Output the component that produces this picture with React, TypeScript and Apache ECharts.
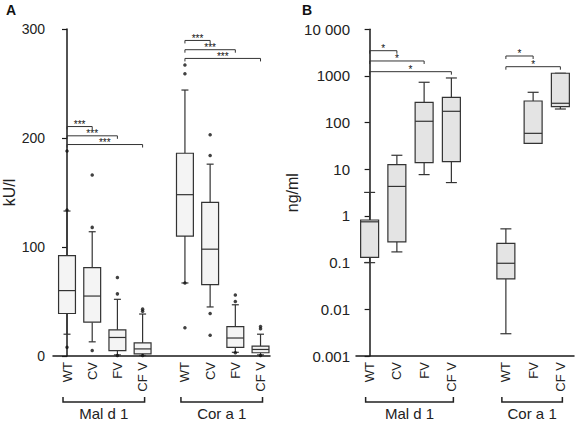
import { useEffect, useRef } from 'react';
import * as echarts from 'echarts';

// ---------- Panel A data (kU/l) ----------
const catsA = ['WT', 'CV', 'FV', 'CF V', 'WT', 'CV', 'FV', 'CF V'];
// [min, Q1, median, Q3, max]
const boxA = [
  [20, 39, 60, 92, 133],
  [13, 31, 55, 81, 114],
  [1, 5, 17, 24, 52],
  [0.5, 2, 6.5, 12, 38.5],
  [67, 110, 148, 186, 244],
  [45, 65.5, 98, 141, 176],
  [3.4, 8, 16.5, 27, 47],
  [1, 3, 6, 9, 20],
];
// [category index, value]
const outliersA = [
  [0, 188], [0, 134], [0, 8],
  [1, 166], [1, 118], [1, 5],
  [2, 72], [2, 57], [2, 0.5],
  [3, 43], [3, 41], [3, 0.5],
  [4, 267], [4, 259], [4, 67], [4, 26],
  [5, 203], [5, 184], [5, 39], [5, 19],
  [6, 56], [6, 50], [6, 3],
  [7, 27], [7, 25], [7, 0.5],
];
// [from cat, to cat, level]
const sigA = [
  [0, 1, 210.5], [0, 2, 202], [0, 3, 194],
  [4, 5, 289.5], [4, 6, 281], [4, 7, 273],
];
const sigLabelsA = ['***', '***', '***', '***', '***', '***'];
const groupsA = [[0, 3], [4, 7]];
const groupNamesA = ['Mal d 1', 'Cor a 1'];
const yTicksA = [0, 100, 200, 300];

// ---------- Panel B data (ng/ml) ----------
const catsB = ['WT', 'CV', 'FV', 'CF V', 'WT', 'FV', 'CF V'];
const boxB = [
  [0.1, 0.13, 0.75, 0.82, 3.2],
  [0.17, 0.28, 4.3, 12.6, 20],
  [7.7, 13.9, 107, 273, 733],
  [5.2, 14.6, 175, 349, 906],
  [0.003, 0.045, 0.097, 0.26, 0.53],
  [36, 36, 59, 291, 447],
  [196, 220, 260, 1143, 1143],
];
const sigB = [
  [0, 1, 3480], [0, 2, 2095], [0, 3, 1236],
  [4, 5, 2680], [4, 6, 1580],
];
const sigLabelsB = ['*', '*', '*', '*', '*'];
const groupsB = [[0, 3], [4, 6]];
const groupNamesB = ['Mal d 1', 'Cor a 1'];

// ---------- layout (category slot positions on the x scale) ----------
const posA = [0, 1, 2, 3, 4.68, 5.68, 6.68, 7.68];
const posB = [0, 1, 2, 3, 5, 6, 7];

const FONT = 'Liberation Sans, Arial, Helvetica, sans-serif';
const INK = '#222';
const STROKE = '#333';

function boxRenderer(fill: string, ratio: number, capW: number) {
  return (params: any, api: any) => {
    const x = api.value(0);
    const mn = api.value(1), q1 = api.value(2), md = api.value(3), q3 = api.value(4), mx = api.value(5);
    const pMin = api.coord([x, mn]);
    const pQ1 = api.coord([x, q1]);
    const pMd = api.coord([x, md]);
    const pQ3 = api.coord([x, q3]);
    const pMx = api.coord([x, mx]);
    const unit = api.coord([x + 0.5, md])[0] - api.coord([x - 0.5, md])[0];
    const w = unit * ratio;
    const cx = pMd[0];
    const ls = { stroke: STROKE, lineWidth: 1.2 };
    return {
      type: 'group',
      children: [
        { type: 'line', shape: { x1: cx, y1: pMx[1], x2: cx, y2: pQ3[1] }, style: ls },
        { type: 'line', shape: { x1: cx, y1: pQ1[1], x2: cx, y2: pMin[1] }, style: ls },
        { type: 'line', shape: { x1: cx - capW / 2, y1: pMx[1], x2: cx + capW / 2, y2: pMx[1] }, style: ls },
        { type: 'line', shape: { x1: cx - capW / 2, y1: pMin[1], x2: cx + capW / 2, y2: pMin[1] }, style: ls },
        { type: 'rect', shape: { x: cx - w / 2, y: pQ3[1], width: w, height: Math.max(pQ1[1] - pQ3[1], 0.5) }, style: { fill, stroke: STROKE, lineWidth: 1.2 } },
        { type: 'line', shape: { x1: cx - w / 2, y1: pMd[1], x2: cx + w / 2, y2: pMd[1] }, style: ls },
      ],
    };
  };
}

function sigRenderer(labels: string[], fontSize: number, textDy: number) {
  return (params: any, api: any) => {
    const p1 = api.coord([api.value(0), api.value(2)]);
    const p2 = api.coord([api.value(1), api.value(2)]);
    return {
      type: 'group',
      children: [
        {
          type: 'polyline',
          shape: { points: [[p1[0], p1[1] + 3], [p1[0], p1[1]], [p2[0], p2[1]], [p2[0], p2[1] + 3]] },
          style: { stroke: STROKE, lineWidth: 1, fill: 'none' },
        },
        {
          type: 'text',
          x: (p1[0] + p2[0]) / 2,
          y: p1[1] + textDy,
          style: { text: labels[params.dataIndex], fontSize, fontFamily: FONT, fill: '#111', align: 'center', verticalAlign: 'middle' },
        },
      ],
    };
  };
}

function groupRenderer(names: string[], yBase: number, fontSize: number) {
  return (params: any, api: any) => {
    const p1 = api.coord([api.value(0), yBase]);
    const p2 = api.coord([api.value(1), yBase]);
    const y = p1[1] + 46;
    const x1 = p1[0] - 4;
    const x2 = p2[0] + 2;
    return {
      type: 'group',
      children: [
        {
          type: 'polyline',
          shape: { points: [[x1, y - 5], [x1, y], [x2, y], [x2, y - 5]] },
          style: { stroke: INK, lineWidth: 1.5, fill: 'none' },
        },
        {
          type: 'text',
          x: (x1 + x2) / 2,
          y: y + 11,
          style: { text: names[params.dataIndex], fontSize, fontFamily: FONT, fill: INK, align: 'center', verticalAlign: 'middle' },
        },
      ],
    };
  };
}

function catFormatter(pos: number[], cats: string[]) {
  return (v: number) => {
    const i = pos.findIndex((p) => Math.abs(p - v) < 1e-6);
    return i >= 0 ? cats[i] : '';
  };
}

function logLabel(v: number) {
  const e = Math.round(Math.log10(v));
  if (e >= 4) return '10 000';
  if (e >= 0) return String(Math.pow(10, e));
  return Math.pow(10, e).toFixed(-e);
}

const axisLineStyle = { color: '#1a1a1a', width: 1.5 };

export default function App() {
  const ref = useRef<HTMLDivElement>(null);
  useEffect(() => {
    document.body.style.margin = '0';
    const chart = echarts.init(ref.current!, null, { renderer: 'svg' });
    const option: any = {
      animation: false,
      backgroundColor: '#fff',
      textStyle: { fontFamily: FONT },
      graphic: [
        { type: 'text', left: 6, top: 3, style: { text: 'A', fontSize: 14, fontWeight: 'bold', fill: '#111', fontFamily: FONT } },
        { type: 'text', left: 302, top: 3, style: { text: 'B', fontSize: 14, fontWeight: 'bold', fill: '#111', fontFamily: FONT } },
      ],
      grid: [
        { left: 53, top: 29, width: 217, height: 327 },
        { left: 356, top: 29.3, width: 218, height: 326.7 },
      ],
      xAxis: [
        {
          gridIndex: 0, type: 'value', min: -0.556, max: 8.056,
          axisLine: { show: true, onZero: false, lineStyle: axisLineStyle },
          axisTick: { show: false }, splitLine: { show: false },
          axisLabel: { customValues: posA, formatter: catFormatter(posA, catsA), rotate: 90, fontSize: 13, color: INK, margin: 6 },
        },
        {
          gridIndex: 1, type: 'value', min: -0.5, max: 7.5,
          axisLine: { show: true, onZero: false, lineStyle: axisLineStyle },
          axisTick: { show: false }, splitLine: { show: false },
          axisLabel: { customValues: posB, formatter: catFormatter(posB, catsB), rotate: 90, fontSize: 13, color: INK, margin: 6 },
        },
      ],
      yAxis: [
        {
          gridIndex: 0, type: 'value', min: yTicksA[0], max: yTicksA[yTicksA.length - 1], interval: 100,
          axisLine: { show: true, lineStyle: axisLineStyle },
          axisTick: { show: true, length: 5, lineStyle: { color: '#1a1a1a', width: 1.2 } },
          axisLabel: { fontSize: 14, color: INK, margin: 8 },
          splitLine: { show: false },
          name: 'kU/l', nameLocation: 'middle', nameGap: 32,
          nameTextStyle: { fontSize: 16, color: INK },
        },
        {
          gridIndex: 1, type: 'log', logBase: 10, min: 0.001, max: 10000,
          axisLine: { show: true, lineStyle: axisLineStyle },
          axisTick: { show: true, length: 5, lineStyle: { color: '#1a1a1a', width: 1.2 } },
          axisLabel: { fontSize: 15, color: INK, margin: 6, formatter: logLabel },
          splitLine: { show: false }, minorTick: { show: false },
          name: 'ng/ml', nameLocation: 'middle', nameGap: 40,
          nameTextStyle: { fontSize: 16, color: INK },
        },
      ],
      series: [
        {
          type: 'custom', xAxisIndex: 0, yAxisIndex: 0, clip: false,
          encode: { x: 0, y: [1, 2, 3, 4, 5] },
          data: boxA.map((b, i) => [posA[i], ...b]),
          renderItem: boxRenderer('#f4f4f4', 0.67, 7),
          z: 2,
        },
        {
          type: 'scatter', xAxisIndex: 0, yAxisIndex: 0,
          data: outliersA.map(([i, v]) => [posA[i], v]),
          symbolSize: 3.5, itemStyle: { color: '#111' }, z: 3,
        },
        {
          type: 'custom', xAxisIndex: 0, yAxisIndex: 0, clip: false,
          encode: { x: [0, 1], y: 2 },
          data: sigA.map(([a, b, y]) => [posA[a], posA[b], y]),
          renderItem: sigRenderer(sigLabelsA, 10, -2),
        },
        {
          type: 'custom', xAxisIndex: 0, yAxisIndex: 0, clip: false,
          encode: { x: [0, 1] },
          data: groupsA.map(([a, b]) => [posA[a], posA[b]]),
          renderItem: groupRenderer(groupNamesA, 0, 15),
        },
        {
          type: 'custom', xAxisIndex: 1, yAxisIndex: 1, clip: false,
          encode: { x: 0, y: [1, 2, 3, 4, 5] },
          data: boxB.map((b, i) => [posB[i], ...b]),
          renderItem: boxRenderer('#e4e4e4', 0.66, 11),
          z: 2,
        },
        {
          type: 'custom', xAxisIndex: 1, yAxisIndex: 1, clip: false,
          encode: { x: [0, 1], y: 2 },
          data: sigB.map(([a, b, y]) => [posB[a], posB[b], y]),
          renderItem: sigRenderer(sigLabelsB, 10, -2),
        },
        {
          type: 'custom', xAxisIndex: 1, yAxisIndex: 1, clip: false,
          encode: { x: [0, 1] },
          data: groupsB.map(([a, b]) => [posB[a], posB[b]]),
          renderItem: groupRenderer(groupNamesB, 0.001, 15),
        },
      ],
    };
    chart.setOption(option);
    return () => chart.dispose();
  }, []);
  return <div ref={ref} style={{ width: 576, height: 421 }} />;
}
